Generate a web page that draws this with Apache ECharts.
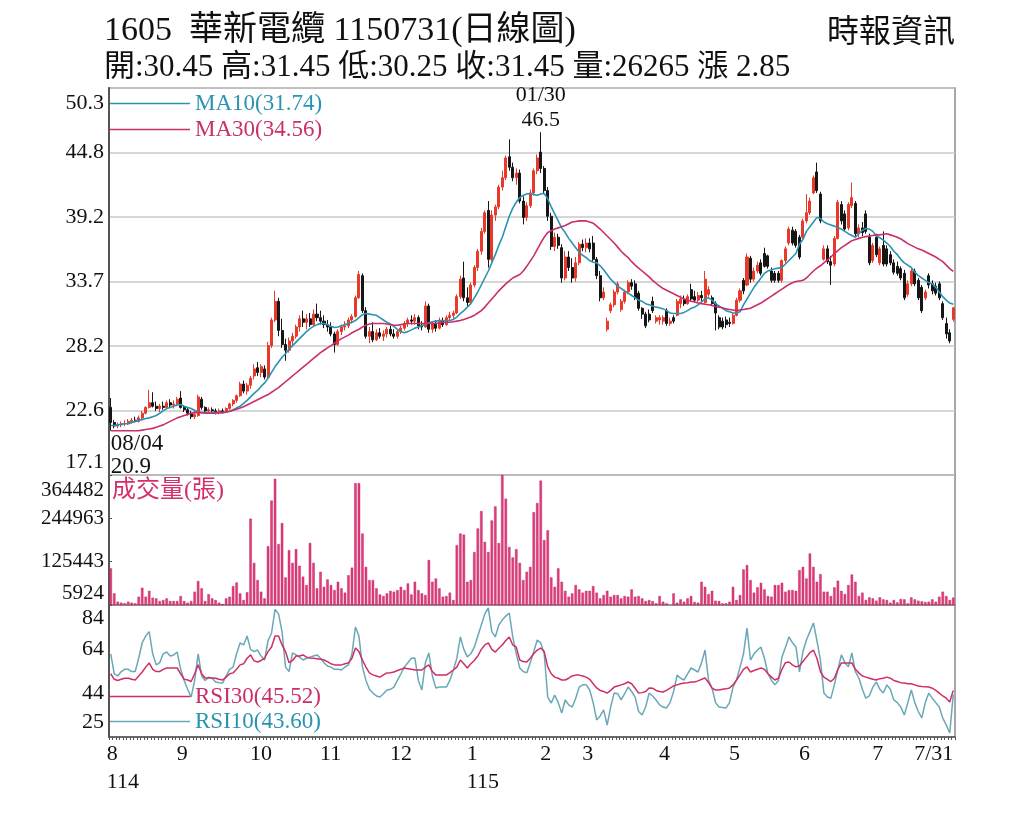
<!DOCTYPE html>
<html><head><meta charset="utf-8">
<script src="https://cdn.jsdelivr.net/npm/echarts@6/dist/echarts.min.js"></script>
<style>html,body{margin:0;padding:0;background:#fff}#c{width:1024px;height:819px}</style>
</head><body><div id="c"></div><script>
// ---- calendar (trading days) ----
const startDate = '2025-08-04', endDate = '2026-07-31';
const holidays = ['2025-09-29','2025-10-06','2025-10-10','2025-10-24','2025-12-25','2026-01-01',
 '2026-02-12','2026-02-13','2026-02-16','2026-02-17','2026-02-18','2026-02-19','2026-02-20','2026-02-27',
 '2026-04-03','2026-04-06','2026-05-01','2026-06-19'];

// ---- daily OHLC ----
const open = [22.9,21.6,21.3,21.4,21.5,21.5,21.7,21.8,21.7,22.0,
22.4,22.9,23.3,23.0,22.8,23.0,22.9,23.3,23.1,23.2,
23.7,22.9,22.7,22.4,22.1,22.2,23.6,22.9,22.6,22.7,
22.6,22.5,22.6,22.5,22.8,23.2,23.5,23.9,24.9,24.3,
24.8,25.6,26.3,25.9,26.2,25.5,28.2,30.4,32.0,29.5,
28.3,27.8,28.6,29.0,29.8,30.5,30.2,30.5,30.0,30.9,
30.6,30.3,30.0,29.8,29.2,28.3,29.4,29.8,29.9,30.4,
30.7,32.3,34.2,31.2,29.0,29.4,28.7,29.3,29.0,29.2,
29.6,29.2,29.0,29.4,29.7,30.1,30.4,30.3,30.6,29.9,
29.8,31.6,29.6,30.1,29.7,30.3,30.0,30.6,30.8,31.0,
32.4,34.0,32.3,31.9,33.4,34.9,36.3,38.0,39.8,35.6,
39.4,40.1,41.8,42.6,44.4,43.5,42.6,43.0,40.6,39.2,
40.2,41.3,43.2,44.8,43.4,41.5,39.3,36.7,37.5,36.6,
34.0,35.8,34.9,34.0,35.3,36.9,36.6,37.0,37.0,35.6,
34.2,32.3,29.6,31.2,31.7,32.8,31.3,32.0,32.8,33.6,
33.5,32.7,31.4,30.9,30.9,32.0,30.3,30.4,30.3,31.2,
30.1,30.6,30.8,31.8,32.2,31.8,33.0,32.4,32.1,32.5,
31.9,32.6,32.3,31.8,30.6,30.3,30.4,30.2,30.1,30.8,
32.1,33.8,33.4,35.7,33.9,34.6,35.3,36.1,35.9,34.6,
34.4,34.4,33.8,35.5,37.0,38.1,38.0,37.5,37.5,38.9,
39.6,41.3,43.1,41.2,35.6,36.5,35.4,35.2,37.4,40.3,
39.5,38.3,40.2,40.4,37.8,38.3,39.5,37.5,35.5,37.5,
35.3,36.8,36.5,36.0,35.3,35.0,34.8,34.4,32.6,33.5,
34.6,33.8,33.2,32.3,34.2,33.5,33.3,33.5,31.8,30.1,
29.3,30.45];
const high = [23.7,21.8,21.6,21.7,21.8,21.9,22.0,22.1,22.2,22.6,
23.0,24.4,24.2,23.4,23.2,23.4,23.5,23.6,23.5,23.8,
24.3,23.1,22.9,22.6,22.6,24.0,23.8,23.0,22.9,22.9,
22.8,22.8,22.8,22.9,23.3,23.6,24.0,25.1,25.2,25.0,
25.6,26.6,26.8,26.6,26.5,28.5,30.6,32.9,32.3,30.5,
28.8,28.9,29.3,30.0,30.8,31.2,30.9,31.0,31.3,31.8,
31.2,30.8,30.4,30.2,29.4,29.6,30.0,30.3,30.6,30.9,
32.5,34.6,34.4,31.5,29.8,30.2,29.6,29.7,29.5,29.8,
29.9,29.6,29.6,29.9,30.3,30.6,30.8,30.9,30.8,30.3,
32.0,31.8,30.3,30.4,30.6,30.6,30.8,31.1,31.2,32.6,
34.2,35.4,33.2,33.6,35.1,36.5,38.3,39.8,40.6,39.8,
40.3,42.0,43.2,44.5,45.9,43.9,43.4,43.3,41.0,40.5,
41.6,43.4,44.6,46.5,43.6,41.8,39.6,37.9,37.8,36.9,
36.3,36.3,35.7,35.8,37.1,37.3,37.4,37.4,37.6,35.8,
34.6,33.2,30.6,31.9,33.0,33.7,32.2,33.0,33.8,33.9,
33.8,32.9,31.5,31.1,31.3,32.4,30.8,30.8,30.8,31.4,
30.6,30.8,32.2,32.5,32.5,32.6,33.5,32.9,32.8,32.9,
34.6,33.3,32.5,32.0,30.8,30.6,30.7,30.6,31.0,32.3,
33.1,34.0,36.1,35.9,34.9,35.4,35.6,36.6,36.0,34.9,
34.6,34.6,35.6,36.7,38.4,38.4,38.2,37.7,39.1,41.2,
40.9,42.8,43.9,41.4,36.8,36.8,35.9,37.6,40.7,40.6,
39.8,40.5,42.2,40.6,38.6,38.8,39.8,37.8,37.0,37.8,
36.7,38.0,36.8,36.3,35.6,35.4,35.0,34.7,33.8,34.8,
34.8,34.0,33.4,33.0,34.4,33.8,33.6,33.7,32.0,30.6,
29.6,31.45];
const low = [20.9,21.1,21.1,21.2,21.3,21.4,21.5,21.6,21.6,21.9,
22.3,22.8,22.9,22.6,22.5,22.7,22.8,22.9,22.8,23.0,
22.8,22.5,22.2,21.9,21.9,22.1,22.7,22.5,22.4,22.5,
22.3,22.3,22.4,22.4,22.7,23.0,23.3,23.8,24.1,24.0,
24.5,25.3,25.6,25.5,25.3,25.4,28.0,30.2,29.0,28.0,
26.9,27.6,28.1,28.8,29.4,29.8,29.6,29.8,29.9,30.3,
30.0,29.7,29.4,29.0,27.6,28.2,29.1,29.5,29.7,30.1,
30.6,32.2,31.0,28.8,28.4,28.5,28.6,28.8,28.6,28.9,
29.0,28.8,28.8,29.2,29.5,29.8,30.0,30.0,29.6,29.5,
29.7,29.3,29.3,29.4,29.6,29.8,29.9,30.4,30.5,30.9,
32.2,32.0,31.6,31.8,33.2,34.6,36.0,37.8,34.9,35.4,
38.9,39.9,41.5,42.4,43.2,42.3,42.0,40.4,38.6,38.9,
40.0,41.1,42.9,43.0,41.2,38.9,36.4,36.3,36.5,33.6,
33.8,34.6,33.6,33.7,35.1,36.3,36.2,36.2,35.4,33.9,
32.0,32.1,29.4,31.0,31.5,32.6,31.1,31.8,32.6,33.0,
32.1,31.2,30.5,29.7,30.2,31.0,30.1,30.0,30.0,29.9,
29.9,30.1,30.7,31.4,31.6,31.7,32.0,31.9,31.9,32.0,
31.8,32.4,31.6,29.5,29.6,29.6,29.7,29.8,30.0,30.7,
31.9,32.6,33.3,33.6,33.7,34.4,34.2,34.9,34.8,33.6,
33.6,33.6,33.6,35.3,36.8,36.8,36.6,35.6,37.3,38.7,
39.4,41.2,41.3,38.7,35.5,35.2,33.4,35.0,37.3,38.6,
38.0,38.1,40.0,37.6,37.5,37.6,37.8,35.1,35.3,35.8,
35.1,35.0,35.0,35.1,34.3,34.2,33.8,32.1,32.4,33.3,
33.3,32.1,31.0,32.1,33.1,32.6,32.5,32.1,30.4,28.8,
28.4,30.25];
const close = [21.6,21.3,21.4,21.5,21.5,21.7,21.8,21.7,22.0,22.4,
22.9,23.3,23.0,22.8,23.0,22.9,23.3,23.1,23.2,23.6,
22.9,22.7,22.4,22.1,22.3,23.8,22.9,22.6,22.7,22.6,
22.5,22.6,22.5,22.8,23.2,23.5,23.9,24.9,24.3,24.8,
25.4,26.2,25.9,26.4,25.5,28.2,30.4,32.0,29.5,28.3,
27.8,28.6,29.0,29.8,30.5,30.2,30.5,30.0,30.9,30.6,
30.3,30.0,29.8,29.2,28.3,29.4,29.8,29.9,30.4,30.7,
32.3,34.3,31.2,29.0,29.4,28.7,29.3,29.0,29.2,29.6,
29.2,29.0,29.4,29.7,30.1,30.4,30.3,30.6,29.9,29.8,
31.6,29.6,30.1,29.7,30.3,30.0,30.6,30.8,31.0,32.4,
33.9,32.3,31.9,33.4,34.9,36.3,38.0,39.6,35.6,39.4,
40.1,41.8,42.6,44.3,43.5,42.6,43.0,40.6,39.2,40.2,
41.3,43.2,44.3,43.4,41.5,39.3,36.7,37.5,36.8,34.0,
35.8,34.9,34.0,35.3,36.9,36.6,37.0,36.5,35.6,34.2,
32.3,32.8,30.3,31.7,32.8,33.5,32.0,32.8,33.6,33.3,
32.3,31.4,30.9,29.9,30.4,31.2,30.6,30.6,30.6,30.1,
30.3,30.3,32.0,32.2,31.8,32.4,32.2,32.1,32.5,32.3,
33.9,33.0,31.8,31.0,29.8,29.8,30.0,30.1,30.8,32.1,
32.9,32.9,35.8,33.9,34.6,35.1,34.4,35.0,35.0,33.8,
33.8,33.8,35.5,36.5,38.2,37.0,36.8,35.8,38.9,39.6,
40.6,42.6,41.5,38.9,36.5,35.4,35.1,37.4,40.5,38.9,
38.2,40.3,40.9,37.8,38.3,37.9,38.0,35.3,36.8,36.0,
36.5,35.2,35.2,35.3,34.5,34.4,34.0,32.3,33.5,34.6,
33.5,32.3,31.2,32.8,33.4,32.9,32.7,32.3,30.6,29.2,
28.6,31.45];

// ---- moving averages ----
const ma10 = [21.35,21.35,21.4,21.45,21.5,21.5,21.6,21.7,21.8,21.85,
21.95,22.0,22.1,22.2,22.4,22.6,22.8,22.9,23.0,23.1,
23.15,23.0,22.9,22.8,22.65,22.5,22.45,22.45,22.45,22.45,
22.45,22.45,22.45,22.5,22.6,22.7,22.85,23.0,23.25,23.5,
23.8,24.1,24.35,24.7,25.0,25.4,25.9,26.4,26.8,27.2,
27.5,27.9,28.2,28.5,28.8,29.1,29.4,29.65,29.85,30.0,
30.1,30.1,30.0,29.85,29.75,29.8,29.9,30.0,30.1,30.2,
30.35,30.6,30.85,30.95,30.9,30.85,30.8,30.6,30.4,30.2,
30.05,29.85,29.6,29.4,29.3,29.4,29.55,29.7,29.8,29.9,
30.05,30.15,30.25,30.3,30.35,30.35,30.35,30.35,30.45,30.65,
30.95,31.2,31.5,31.8,32.3,32.8,33.4,34.0,34.6,35.3,
36.0,36.8,37.5,38.4,39.3,40.0,40.5,40.9,41.1,41.2,
41.25,41.15,41.1,41.2,41.25,40.8,40.1,39.5,38.9,38.3,
37.9,37.4,37.0,36.6,36.2,35.95,35.75,35.5,35.35,35.3,
35.05,34.7,34.3,33.9,33.6,33.3,33.1,32.9,32.7,32.5,
32.3,32.1,32.0,31.8,31.7,31.6,31.5,31.45,31.35,31.2,
31.0,30.95,30.95,30.95,31.05,31.2,31.4,31.5,31.7,31.95,
32.2,32.3,32.1,31.8,31.6,31.4,31.2,31.1,31.0,31.0,
31.1,31.7,32.2,32.7,33.2,33.6,34.0,34.4,34.6,34.7,
34.8,34.85,34.9,35.2,35.5,35.8,36.1,36.9,37.3,38.0,
38.4,38.8,39.2,39.1,38.8,38.65,38.55,38.45,38.3,38.2,
38.0,37.8,37.65,37.5,37.8,38.1,38.25,38.2,38.0,37.6,
37.45,37.25,37.0,36.7,36.3,36.0,35.6,35.3,35.1,34.9,
34.5,34.2,34.0,33.8,33.6,33.5,33.2,32.8,32.4,32.1,
31.85,31.74];
const ma30 = [20.9,20.9,20.9,20.9,20.9,20.9,20.9,20.9,20.9,20.95,
21.0,21.05,21.1,21.2,21.3,21.4,21.55,21.7,21.85,22.0,
22.1,22.2,22.3,22.4,22.45,22.45,22.45,22.4,22.4,22.4,
22.4,22.45,22.45,22.5,22.55,22.65,22.75,22.85,22.95,23.1,
23.25,23.4,23.55,23.7,23.85,24.0,24.2,24.4,24.6,24.85,
25.1,25.35,25.6,25.85,26.1,26.35,26.6,26.85,27.1,27.35,
27.6,27.8,28.0,28.2,28.4,28.6,28.8,28.95,29.1,29.3,
29.45,29.6,29.8,29.95,30.05,30.1,30.1,30.1,30.1,30.05,
30.0,29.95,29.95,30.0,30.05,30.1,30.1,30.1,30.1,30.1,
30.1,30.1,30.1,30.1,30.15,30.2,30.2,30.2,30.25,30.3,
30.35,30.45,30.55,30.65,30.8,31.0,31.2,31.5,31.85,32.2,
32.55,32.9,33.2,33.5,33.75,34.0,34.15,34.3,34.6,35.0,
35.45,35.9,36.45,37.0,37.5,37.9,38.05,38.2,38.3,38.4,
38.5,38.65,38.8,38.85,38.9,38.9,38.9,38.8,38.7,38.45,
38.2,37.9,37.6,37.3,37.0,36.65,36.3,36.0,35.75,35.4,
35.1,34.85,34.6,34.35,34.1,33.8,33.55,33.3,33.1,32.95,
32.8,32.65,32.5,32.35,32.2,32.1,32.0,31.95,31.85,31.8,
31.75,31.7,31.65,31.55,31.5,31.45,31.35,31.3,31.25,31.2,
31.25,31.3,31.35,31.4,31.55,31.7,31.85,32.05,32.25,32.45,
32.65,32.85,33.05,33.25,33.45,33.6,33.7,33.75,33.8,34.0,
34.3,34.6,34.85,35.05,35.3,35.55,35.8,36.1,36.35,36.6,
36.8,37.0,37.2,37.3,37.4,37.5,37.55,37.6,37.65,37.7,
37.7,37.75,37.8,37.7,37.6,37.5,37.35,37.15,36.95,36.8,
36.65,36.5,36.4,36.25,36.1,35.95,35.8,35.6,35.4,35.1,
34.8,34.56];

// ---- volume (張) ----
const volume = [107000,38000,15000,12300,10500,15000,12300,10500,28800,53500,
28800,45000,26000,24200,16900,19700,24200,16900,16900,16900,
30600,16900,12300,16900,42600,72000,52000,16900,36000,24200,
19700,12300,8700,24200,28800,58000,68000,38000,19700,41000,
244000,122000,74600,42600,24200,168000,294000,354000,174000,232000,
82000,157000,122000,160000,114000,84000,61000,177000,122000,52000,
97500,56000,76500,61000,47000,70000,52000,40000,88000,109000,
342000,342000,203000,111000,74600,74600,52000,35000,30600,38000,
45000,42600,47000,56000,47000,65500,35000,70000,47000,38000,
33400,130000,70000,79000,52000,28800,30600,40000,19700,171000,
203000,200000,70000,74600,152000,217000,265000,180000,152000,239000,
278000,177000,364482,299000,166000,137000,160000,122000,74600,97500,
111000,262000,287000,349000,185000,212000,82000,56000,107000,70000,
45000,28800,38000,61000,49000,40000,45000,45000,58000,40000,
24200,33400,45000,28800,33400,33400,24200,30600,28800,49000,
28800,30600,24200,16900,19700,16900,10500,30600,15000,10500,
5924,38000,12300,21500,15000,24200,30600,14200,12300,70000,
56000,36000,45000,17800,16900,10500,10500,15000,56000,19700,
33400,104000,116000,74600,40000,54500,67000,49000,30600,28800,
61000,61000,67000,42600,47000,47000,45000,102000,111000,79000,
148000,111000,70000,91000,42600,42600,30600,54500,73000,45000,
36000,61000,90000,70000,30600,40000,19700,27000,24200,17800,
27000,21500,19700,12300,19700,13300,22400,21500,10500,27000,
21500,17800,16000,14200,15000,21500,15000,28800,42600,30600,
19700,26265];

// ---- RSI ----
const rsi10 = [62,53,52,54,55,55,54,54,60,67,
70,72,62,57,58,62,62.8,61,61.5,62.8,
55,50,46,42.5,50,62,52,50,51.5,51,
49.3,49,48.8,52,55,56,62,66.9,66,70,
64,63,63.7,61,59.2,68,71.4,82,80,72,
56,54,62.4,61.5,60.5,59.2,60,60.5,61,61.5,
60,58,56.5,56,55,55,54.7,56,57,62,
74.1,70,56.1,50,46,44.3,43,42.5,44,45.7,
46,47,50,53,56.1,58,60,60.1,50,45.7,
58,62.4,52,46.6,47,47,47,50,54.7,60,
69.6,64,60.6,62,65,70,75,80,82.7,72,
69.6,75,77.2,79,80.4,69.6,62,55.6,54,53.4,
58,63,68.2,66.9,62,42.5,39.8,43.4,40,35.3,
41.2,39,38,42,47,48,48,45.7,40,32.2,
34,36.7,29.9,38,44.3,44,41.2,44,47,45,
42.5,36,34.4,38,44.3,43,41.2,39,38,37.6,
40,45,52.4,51,50.2,53,55.6,54.7,53.8,58,
63.7,50,46.6,40,38,37.8,37.6,40,47,50.2,
56,62,73.6,59.2,62,63.7,65,60,53,50,
48,50,60.6,65,69.6,67,65.1,53.8,63,68.2,
72,75.9,68,59.2,44.3,42.5,42,48,55,61.5,
58,56.1,62.4,54,51.1,46,42,43,47,49.3,
46,44.3,48,46,41.2,40,38,34.4,40,45.7,
40,36,33.1,40,44.3,42,40,38,33,30,
26.3,43.6];
const rsi30 = [53,50.5,50,50.5,51,51,50.5,50.2,52,53.8,
56,57.9,55,54,54,55,55.6,55.6,55.6,55.6,
53,50.5,50.2,49.5,53,57,53,51.1,51.1,51.1,
51,50.5,50.2,51.5,53,53.4,55,57,57.5,60,
61.5,58.8,58.3,59,60,63,65.1,70,70,66,
63,58,59,61,61,61.5,60.5,60.1,60,59.8,
59.5,59.2,58.5,57.5,57,57,57,57.5,57.9,60,
64.6,63,59.2,56,53.4,52.5,52,51.5,52.5,53.4,
53.5,53.8,54.5,55,55.6,55.3,55,54.7,54.7,54.7,
56,57,54,52.4,52.4,52.4,52.4,53.5,54.7,56,
59.2,57.5,55.6,57.5,59,61,64,66,66.9,64,
62.8,64.5,66,68,69.6,66,65,59.2,58.5,58.3,
60,62,63.7,64.6,63,56.1,53,51.5,51,50.2,
50.2,51,52,52.4,52.4,52,51.5,50.5,48.5,46.6,
45.5,45,44.3,45.5,47,47.5,48,48.5,49.3,48.5,
46.5,44.3,44.5,45,46.6,46.5,45.5,45,44.8,45.5,
46.5,47.5,48,48.5,48.8,49,49.3,49.3,49.8,50.5,
51.1,49,46.5,45.7,45.7,46,46.2,46.6,48,50.2,
52.5,55,56.1,53.8,54.5,55,55.6,55,53,51.5,
50.2,51,55,58,58.3,57,56.1,56.5,58.5,60.5,
62.5,63.7,60,54,51.5,50.5,49.5,51,55,57.9,
57.9,57.9,57.9,55,53.4,52,51.5,51,50.5,50.2,
50.8,51,51.5,51,50,49.5,49,48.8,48.5,48.5,
48,47.5,47.3,47.2,47,46.5,45.5,44.3,43,42,
40.3,45.52];

// ---- axis ranges and tick labels ----
const priceMin = 17.1, priceMax = 50.3;
const priceTicks = ['17.1','22.6','28.2','33.7','39.2','44.8','50.3'];
const volMin = 5924, volMax = 364482;
const volTicks = ['5924','125443','244963','364482'];
const rsiMin = 24.5, rsiMax = 84;
const rsiTicks = ['25','44','64','84'];
const titleMain = '1605  華新電纜 1150731(日線圖)';
const sourceText = '時報資訊';
const volTitle = '成交量(張)';

// ---- build ----
function buildDates(){
  const out=[], hol=new Set(holidays);
  let d=new Date(startDate+'T00:00:00Z'); const end=new Date(endDate+'T00:00:00Z');
  while(d<=end){const wd=d.getUTCDay(), s=d.toISOString().slice(0,10);
    if(wd!==0&&wd!==6&&!hol.has(s)) out.push(s);
    d=new Date(d.getTime()+86400000);}
  return out;
}
const dates = buildDates().slice(0, close.length);
const N = dates.length;
const xLabels = dates.map((s,i)=>{
  const m=+s.slice(5,7), pm = i>0 ? +dates[i-1].slice(5,7) : -1;
  if(i===N-1) return m+'/'+(+s.slice(8,10));
  if(m!==pm){ if(i===0||m===1) return m+'\n'+(+s.slice(0,4)-1911); return String(m); }
  return '';
});
const last = N-1;
const fmt = (v)=>v.toFixed(2);
const subLine = '開:'+fmt(open[last])+' 高:'+fmt(high[last])+' 低:'+fmt(low[last])+' 收:'+fmt(close[last])+
  ' 量:'+volume[last]+' 漲 '+fmt(close[last]-close[last-1]);
const ma10Name='MA10('+fmt(ma10[last])+')', ma30Name='MA30('+fmt(ma30[last])+')';
const rsi10Name='RSI10('+fmt(rsi10[last])+')', rsi30Name='RSI30('+fmt(rsi30[last])+')';
const hiIdx = high.indexOf(Math.max(...high)), loIdx = low.indexOf(Math.min(...low));
const mmdd = s => s.slice(5,7)+'/'+s.slice(8,10);

const SERIF='"Liberation Serif","Noto Sans CJK TC",serif';
const TEAL='#2a93b2', CRIM='#c92f6a';
const base={fontFamily:SERIF,color:'#111'};
function endRich(size, top, bottom){
  return { n:{...base,fontSize:size}, t:{...base,fontSize:size,padding:[top,0,0,0]}, b:{...base,fontSize:size,padding:[0,0,bottom,0]} };
}
function labelAxis(grid, maxIdx, ticks, size, top, bottom, split, ticksIn){
  return {type:'value', gridIndex:grid, min:0, max:maxIdx, interval:1, position:'left',
    axisLine:{show:false}, axisTick:{show:!!ticksIn, inside:true, length:3, lineStyle:{color:'#555'}},
    splitLine:{show:split, lineStyle:{color:'#c8c8c8', width:1.5}},
    axisLabel:{margin:5, formatter:v=>{const k=Math.round(v); return k===0?'{b|'+ticks[k]+'}':(k===maxIdx?'{t|'+ticks[k]+'}':'{n|'+ticks[k]+'}');},
      rich:endRich(size, top, bottom)}};
}
function dataAxis(grid,min,max){
  return {type:'value', gridIndex:grid, min, max, position:'left', axisLabel:{show:false}, axisTick:{show:false},
    splitLine:{show:false}, axisLine:{show:true, lineStyle:{color:'#555', width:2}}};
}
const gridBase={left:109, width:846, show:true, borderColor:'#8c8c8c', borderWidth:1.5};

const option={
  animation:false, backgroundColor:'#fff',
  title:[
    {text:titleMain, subtext:subLine, left:104, top:13, padding:0, itemGap:1,
     textStyle:{fontFamily:SERIF, fontSize:34, fontWeight:'normal', color:'#111', lineHeight:37},
     subtextStyle:{fontFamily:SERIF, fontSize:31, color:'#111', lineHeight:34}},
    {text:sourceText, left:827, top:18, padding:0, textStyle:{fontFamily:SERIF, fontSize:32, fontWeight:'normal', color:'#111'}},
    {text:volTitle, left:112, top:479, padding:0, textStyle:{fontFamily:SERIF, fontSize:24, fontWeight:'normal', color:'#d42f6d'}}
  ],
  legend:[
    {data:[{name:ma10Name,textStyle:{color:TEAL}},{name:ma30Name,textStyle:{color:CRIM}}],
     left:110, top:92, orient:'vertical', icon:'rect', itemWidth:80, itemHeight:1.5, itemGap:3, padding:0,
     selectedMode:false, textStyle:{fontFamily:SERIF, fontSize:23}},
    {data:[{name:rsi30Name,textStyle:{color:CRIM}},{name:rsi10Name,textStyle:{color:TEAL}}],
     left:110, top:685, orient:'vertical', icon:'rect', itemWidth:80, itemHeight:1.5, itemGap:2, padding:0,
     selectedMode:false, textStyle:{fontFamily:SERIF, fontSize:23}}
  ],
  grid:[{...gridBase, top:88, height:387},{...gridBase, top:475, height:130},{...gridBase, top:605, height:132}],
  xAxis:[
    {type:'category', gridIndex:0, data:dates, show:false},
    {type:'category', gridIndex:1, data:dates, show:false},
    {type:'category', gridIndex:2, data:dates, boundaryGap:true,
     axisLine:{show:true, lineStyle:{color:'#555', width:1.5}},
     axisTick:{show:true, interval:0, length:3, lineStyle:{color:'#555'}},
     axisLabel:{interval:(i)=>xLabels[i]!=='', formatter:(v,i)=>xLabels[i], align:'left', alignMaxLabel:'right',
       margin:3, fontFamily:SERIF, fontSize:22, lineHeight:28, color:'#111', padding:[0,0,0,-4]}}
  ],
  yAxis:[
    dataAxis(0, priceMin, priceMax),
    labelAxis(0, priceTicks.length-1, priceTicks, 22, 31, 25, true, false),
    dataAxis(1, volMin, volMax),
    labelAxis(1, volTicks.length-1, volTicks, 21, 31, 24, false, true),
    dataAxis(2, rsiMin, rsiMax),
    labelAxis(2, rsiTicks.length-1, rsiTicks, 22, 26, 30, false, false)
  ],
  series:[
    {type:'candlestick', name:'K', xAxisIndex:0, yAxisIndex:0, barWidth:'72%',
     data:dates.map((d,i)=>[open[i],close[i],low[i],high[i]]),
     itemStyle:{color:'#e8392b', color0:'#161616', borderColor:'#e8392b', borderColor0:'#161616', borderWidth:1},
     markPoint:{symbol:'circle', symbolSize:0, silent:true,
       data:[
        {coord:[dates[hiIdx], high[hiIdx]], label:{show:true, position:'top', distance:0, formatter:mmdd(dates[hiIdx])+'\n'+high[hiIdx].toFixed(1),
          fontFamily:SERIF, fontSize:22, lineHeight:25, color:'#111'}},
        {coord:[dates[loIdx], low[loIdx]], label:{show:true, position:'bottom', distance:2, align:'left', formatter:mmdd(dates[loIdx])+'\n'+low[loIdx].toFixed(1),
          fontFamily:SERIF, fontSize:23, lineHeight:23, color:'#111'}}
       ]}},
    {type:'line', name:ma10Name, xAxisIndex:0, yAxisIndex:0, data:ma10, showSymbol:false, symbol:'none',
     itemStyle:{color:TEAL}, lineStyle:{color:TEAL, width:1.6}},
    {type:'line', name:ma30Name, xAxisIndex:0, yAxisIndex:0, data:ma30, showSymbol:false, symbol:'none',
     itemStyle:{color:CRIM}, lineStyle:{color:CRIM, width:1.6}},
    {type:'bar', name:'VOL', xAxisIndex:1, yAxisIndex:2, data:volume, barWidth:'70%',
     itemStyle:{color:'#e23c7c', borderColor:'#b81d5a', borderWidth:0.4}},
    {type:'line', name:rsi10Name, xAxisIndex:2, yAxisIndex:4, data:rsi10, showSymbol:false, symbol:'none',
     itemStyle:{color:'#6aa8b8'}, lineStyle:{color:'#6aa8b8', width:1.5}},
    {type:'line', name:rsi30Name, xAxisIndex:2, yAxisIndex:4, data:rsi30, showSymbol:false, symbol:'none',
     itemStyle:{color:'#cf2f66'}, lineStyle:{color:'#cf2f66', width:1.5}}
  ]
};
const chart=echarts.init(document.getElementById('c'),null,{renderer:'canvas'});
chart.setOption(option);
</script></body></html>
